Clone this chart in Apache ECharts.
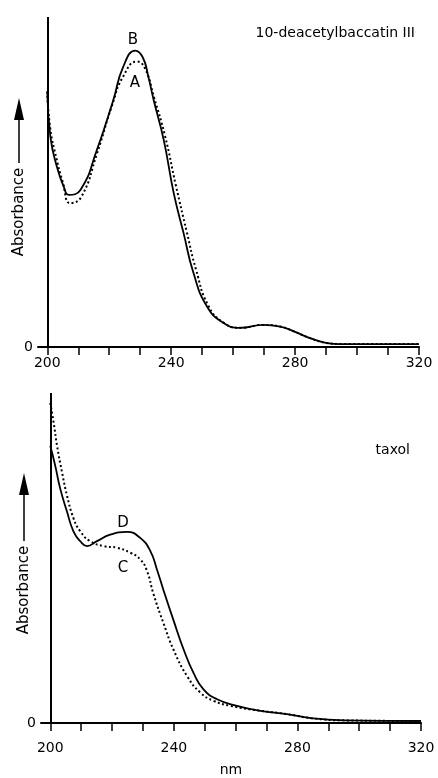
<!DOCTYPE html>
<html>
<head>
<meta charset="UTF-8" />
<title>UV spectra</title>
<style>
  html, body { margin: 0; padding: 0; background: #fff; }
  #chart { width: 438px; height: 778px; }
</style>
</head>
<body>
<div id="chart"></div>
<script src="https://cdn.jsdelivr.net/npm/echarts@6/dist/echarts.min.js"></script>
<script>
// 10-deacetylbaccatin III, curve A (dotted) and B (solid)
const wlA = [200, 201, 203, 205, 207.4, 211, 216, 221, 224.5, 228.9, 231.5, 234.5, 238, 241.5, 245, 248, 252, 257, 262.3, 269.7, 275.2, 279.4, 284.8, 290.3, 294.6, 320];
const absA = [0.774, 0.66, 0.57, 0.50, 0.436, 0.455, 0.585, 0.735, 0.82, 0.865, 0.845, 0.755, 0.64, 0.49, 0.35, 0.235, 0.125, 0.073, 0.058, 0.067, 0.062, 0.048, 0.027, 0.012, 0.009, 0.009];
const wlB = [200, 201, 203.1, 205.3, 206.9, 210.7, 216, 221.3, 224.5, 228.4, 230.8, 232.6, 234.3, 237.6, 240.8, 244, 247.2, 251.6, 256.9, 262.3, 269.7, 275.2, 279.4, 284.8, 290.3, 294.6, 320];
const absB = [0.774, 0.637, 0.546, 0.486, 0.461, 0.476, 0.597, 0.748, 0.849, 0.898, 0.878, 0.82, 0.75, 0.627, 0.467, 0.345, 0.224, 0.122, 0.073, 0.058, 0.067, 0.062, 0.048, 0.027, 0.012, 0.009, 0.009];

// taxol, curve C (dotted) and D (solid)
const wlC = [200, 201.1, 202.2, 203.8, 205.4, 207.5, 209.7, 212.9, 217.3, 221.6, 225.9, 229.1, 231.3, 233.4, 236.7, 239.9, 244.3, 248.6, 252.9, 258.3, 268, 276.6, 285, 295, 320];
const absC = [0.97, 0.91, 0.84, 0.76, 0.69, 0.621, 0.581, 0.551, 0.536, 0.531, 0.516, 0.496, 0.461, 0.391, 0.301, 0.222, 0.142, 0.092, 0.067, 0.052, 0.037, 0.027, 0.014, 0.008, 0.006];
const wlD = [200, 201.6, 203.2, 205.4, 207.5, 209.7, 211.9, 215.1, 219.4, 224.8, 229.1, 232.4, 234.5, 236.7, 239.9, 243.2, 246.4, 249.6, 254, 260.4, 268, 276.6, 285, 295, 320];
const absD = [0.84, 0.78, 0.711, 0.641, 0.581, 0.551, 0.536, 0.551, 0.571, 0.579, 0.561, 0.521, 0.466, 0.401, 0.311, 0.222, 0.151, 0.102, 0.072, 0.052, 0.037, 0.027, 0.014, 0.008, 0.006];

const tickValues = [200, 210, 220, 230, 240, 250, 260, 270, 280, 290, 300, 310, 320];
const labelValues = [200, 240, 280, 320];

const FONT = 'DejaVu Sans';
const pairs = (xs, ys) => xs.map((x, i) => [x, ys[i]]);

function xAxisOf(gridIndex, labelMargin, extra) {
  return Object.assign({
    type: 'value', gridIndex, min: 197, max: 320,
    axisLine: { onZero: false, lineStyle: { color: '#000', width: 2 } },
    axisTick: { customValues: tickValues, length: 8, lineStyle: { color: '#000', width: 1.5 } },
    axisLabel: { customValues: labelValues, color: '#000', fontFamily: FONT, fontSize: 14, margin: labelMargin },
    splitLine: { show: false }
  }, extra || {});
}

function yAxisOf(gridIndex) {
  return {
    type: 'value', gridIndex, min: 0, max: 1,
    axisLine: { show: false }, axisTick: { show: false }, splitLine: { show: false },
    axisLabel: { customValues: [0], color: '#000', fontFamily: FONT, fontSize: 14, margin: 5 }
  };
}

// the vertical axis line sits at 200 nm, the x axis runs a little past it
const vLine = {
  silent: true, symbol: 'none', label: { show: false },
  lineStyle: { color: '#000', width: 2, type: 'solid' },
  data: [{ xAxis: 200 }]
};

function curve(idx, data, dotted, withAxis) {
  const s = {
    type: 'line', xAxisIndex: idx, yAxisIndex: idx, data,
    smooth: 0.5,
    showSymbol: false, silent: true,
    lineStyle: dotted ? { color: '#000', width: 2, type: [2, 2.5] } : { color: '#000', width: 1.8 }
  };
  if (withAxis) s.markLine = vLine;
  return s;
}

function label(text, x, y, size, align) {
  return { type: 'text', x, y, style: { text, fill: '#000', font: size + 'px "' + FONT + '"', align: align || 'center', verticalAlign: 'middle' } };
}

function absLabel(x, yText, yLineTop, yLineBot) {
  return [
    { type: 'text', x, y: yText, rotation: Math.PI / 2,
      style: { text: 'Absorbance', fill: '#000', font: '15px "' + FONT + '"', align: 'center', verticalAlign: 'middle' } },
    { type: 'line', shape: { x1: x, y1: yLineBot, x2: x, y2: yLineTop + 20 }, style: { stroke: '#000', lineWidth: 1.5 } },
    { type: 'polygon', shape: { points: [[x, yLineTop], [x - 5, yLineTop + 22], [x + 5, yLineTop + 22]] }, style: { fill: '#000' } }
  ];
}

const chart = echarts.init(document.getElementById('chart'));
chart.setOption({
  backgroundColor: '#fff',
  animation: false,
  grid: [
    { left: 38, right: 19, top: 17, height: 330 },
    { left: 41, right: 17, top: 393, height: 334 }
  ],
  xAxis: [
    xAxisOf(0, 9),
    xAxisOf(1, 18, { name: 'nm', nameLocation: 'middle', nameGap: 40, nameTextStyle: { color: '#000', fontFamily: FONT, fontSize: 14 } })
  ],
  yAxis: [yAxisOf(0), yAxisOf(1)],
  series: [
    curve(0, pairs(wlB, absB), false, true),
    curve(0, pairs(wlA, absA), true, false),
    curve(1, pairs(wlD, absD), false, true),
    curve(1, pairs(wlC, absC), true, false)
  ],
  graphic: [
    label('10-deacetylbaccatin III', 415, 33, 14, 'right'),
    label('taxol', 410, 450, 14, 'right'),
    label('B', 133, 40, 15),
    label('A', 135, 83, 15),
    label('D', 123, 523, 15),
    label('C', 123, 568, 15)
  ].concat(absLabel(19, 212, 98, 163), absLabel(24, 590, 473, 541))
});
</script>
</body>
</html>
